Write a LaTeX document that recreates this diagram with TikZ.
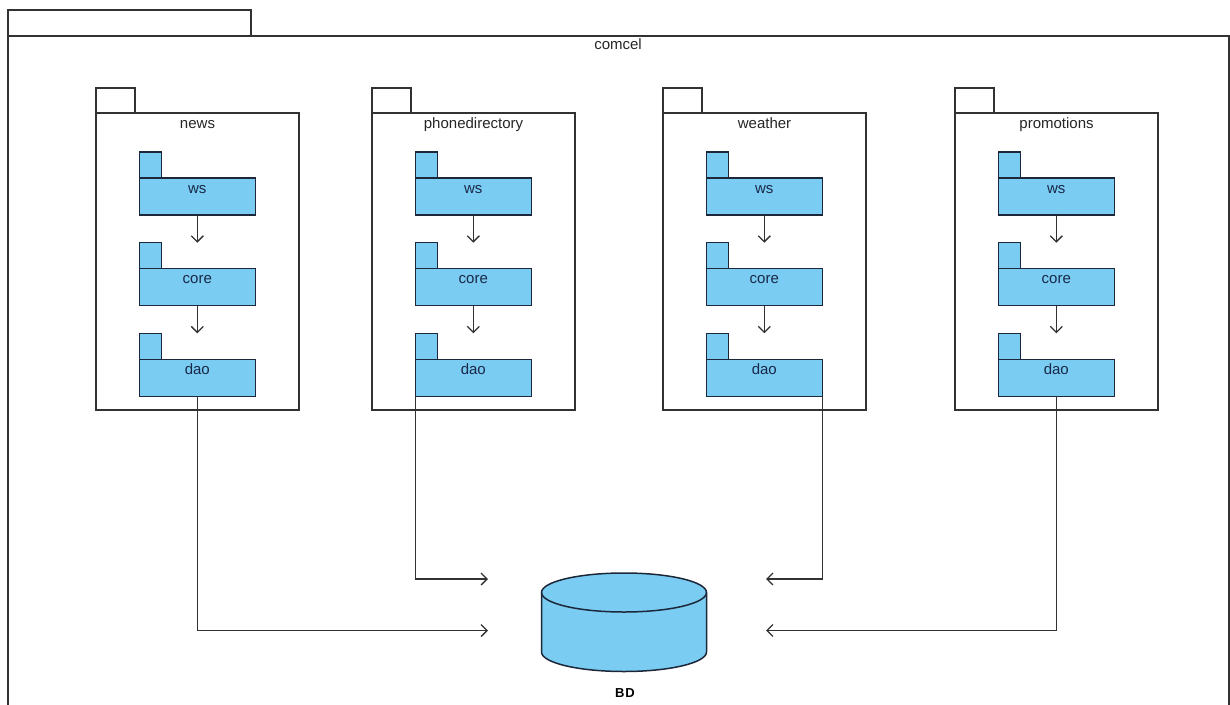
\documentclass[tikz,border=0pt]{standalone}
\usepackage{fontspec}
\setmainfont{Liberation Sans}
\usetikzlibrary{arrows.meta,calc}
\definecolor{pkgfill}{RGB}{122,204,242}
\definecolor{pkgedge}{RGB}{28,40,58}
\definecolor{frameedge}{RGB}{50,50,50}
\definecolor{lbltext}{RGB}{25,40,72}
\tikzset{
  frame/.style={draw=frameedge, line width=1.3pt, fill=white, inner sep=0pt, outer sep=0pt},
  subpkg/.style={draw=pkgedge, line width=1.3pt, fill=pkgfill, inner sep=0pt, outer sep=0pt},
  pkglabel/.style={font=\fontsize{15}{17}\selectfont, text=black!85, inner sep=0pt, anchor=base},
  sublabel/.style={font=\fontsize{15}{17}\selectfont, text=lbltext, inner sep=0pt, anchor=base},
  dep/.style={draw=frameedge, line width=1.3pt,
    -{Straight Barb[length=6pt,width=12pt,line width=1.3pt]}},
}
\begin{document}
\begin{tikzpicture}[x=1pt,y=-1pt]
\clip (0,0) rectangle (1230,704);
\fill[white] (0,0) rectangle (1230,704);

% outer package
\node[frame, anchor=south west, minimum width=243pt, minimum height=26pt] (comcel-tab) at (8,36) {};
\node[frame, anchor=north west, minimum width=1221pt, minimum height=700pt] (comcel) at (8,36) {};
\node[pkglabel] (comcel-name) at (618,49.5) {comcel};

% service packages with their ws / core / dao layers
\foreach \k/\L in {news/96, phonedirectory/372, weather/663, promotions/955} {
  \node[frame, anchor=south west, minimum width=39pt, minimum height=25pt] (\k-tab) at (\L,113) {};
  \node[frame, anchor=north west, minimum width=203pt, minimum height=297pt] (\k) at (\L,113) {};
  \node[pkglabel] (\k-name) at (\L+101.5,128) {\k};
  \foreach \s/\ty in {ws/152, core/242.7, dao/333.3} {
    \node[subpkg, anchor=north west, minimum width=22pt, minimum height=26pt] (\k-\s-tab) at (\L+43.3,\ty) {};
    \node[subpkg, anchor=north west, minimum width=116pt, minimum height=37pt] (\k-\s) at (\L+43.3,\ty+26) {};
    \node[sublabel] (\k-\s-name) at ($(\k-\s.north)+(0,15)$) {\s};
  }
  \draw[dep] (\k-ws.south) -- (\k-ws.south |- \k-core-tab.north);
  \draw[dep] (\k-core.south) -- (\k-core.south |- \k-dao-tab.north);
}

% database
\coordinate (bd) at (624,622);
\filldraw[draw=pkgedge, fill=pkgfill, line width=1.5pt]
  (541.5,592.5) -- (541.5,652)
  arc[start angle=180, end angle=360, x radius=82.5pt, y radius=19.5pt]
  -- (706.5,592.5)
  arc[start angle=0, end angle=180, x radius=82.5pt, y radius=19.5pt] -- cycle;
\draw[draw=pkgedge, line width=1.5pt] (541.5,592.5)
  arc[start angle=180, end angle=360, x radius=82.5pt, y radius=19.5pt];
\node[font=\bfseries\fontsize{13}{15}\selectfont, inner sep=0pt, anchor=base] (bd-name) at (625,697) {B\kern1pt D};

% dependencies to the database
\coordinate (bd-in-ul) at (488,579);
\coordinate (bd-in-ll) at (488,630.5);
\coordinate (bd-in-ur) at (766,579);
\coordinate (bd-in-lr) at (766,630.5);
\draw[dep] (news-dao.south) |- (bd-in-ll);
\draw[dep] (phonedirectory-dao.south west) |- (bd-in-ul);
\draw[dep] (weather-dao.south east) |- (bd-in-ur);
\draw[dep] (promotions-dao.south) |- (bd-in-lr);
\end{tikzpicture}
\end{document}
